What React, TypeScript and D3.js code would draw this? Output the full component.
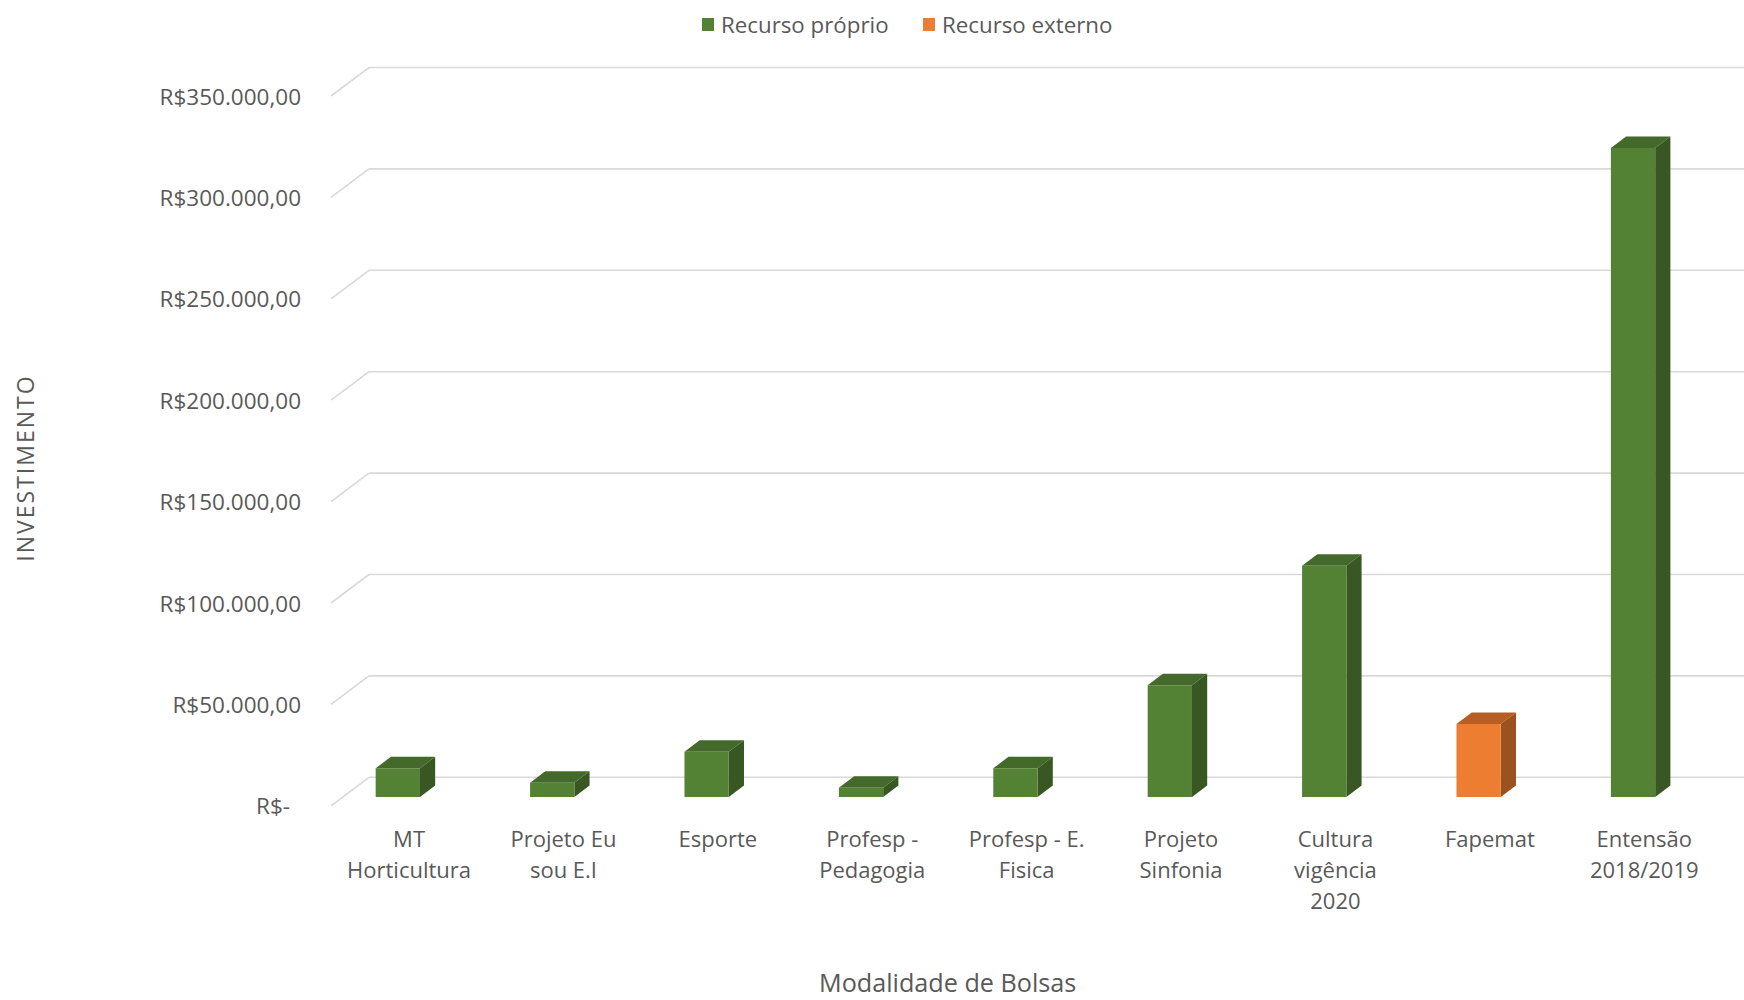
import React, { useEffect } from "react";
import * as d3 from "d3";

const categories = [
  "MT\nHorticultura",
  "Projeto Eu\nsou E.I",
  "Esporte",
  "Profesp -\nPedagogia",
  "Profesp - E.\nFisica",
  "Projeto\nSinfonia",
  "Cultura\nvigência\n2020",
  "Fapemat",
  "Entensão\n2018/2019",
];
const recursoProprio = [14150, 7050, 22350, 4600, 14150, 55100, 114050, 0, 320000];
const recursoExterno = [0, 0, 0, 0, 0, 0, 0, 36000, 0];
const seriesNames = ["Recurso próprio", "Recurso externo"];
const yTicks = [0, 50000, 100000, 150000, 200000, 250000, 300000, 350000];
const yTickLabels = [
  "R$-",
  "R$50.000,00",
  "R$100.000,00",
  "R$150.000,00",
  "R$200.000,00",
  "R$250.000,00",
  "R$300.000,00",
  "R$350.000,00",
];

const W = 1744;
const H = 1000;
const FONT = "'Open Sans', 'Noto Sans', sans-serif";
const TEXT = "#595959";
const GRID = "#d9d9d9";
const DEPTH_X = 38;
const DEPTH_Y = 28.5;
const F_FRONT = 0.69;
const F_BACK = 0.29;

const colors = [
  { front: "#548235", top: "#436a2a", side: "#385723" },
  { front: "#ED7D31", top: "#B65E24", side: "#9C521F" },
];

export default function App() {
  useEffect(() => {
    document.body.style.margin = "0";
  }, []);

  const y = d3.scaleLinear().domain([0, 350000]).range([777.3, 67.5]);
  const x = d3
    .scaleBand<string>()
    .domain(categories)
    .range([346.85, 1736.45])
    .paddingInner(0.713)
    .paddingOuter(0.3565);
  const bw = x.bandwidth();

  const proj = (xb: number, v: number, f: number): [number, number] => [
    xb - f * DEPTH_X,
    y(v) + f * DEPTH_Y,
  ];
  const pts = (arr: [number, number][]) => arr.map((p) => p.join(",")).join(" ");

  const bars: { cat: string; value: number; s: number }[] = [];
  categories.forEach((c, i) => {
    if (recursoProprio[i] > 0) bars.push({ cat: c, value: recursoProprio[i], s: 0 });
    if (recursoExterno[i] > 0) bars.push({ cat: c, value: recursoExterno[i], s: 1 });
  });

  const gridX0 = 369;
  return (
    <svg width={W} height={H} style={{ display: "block", background: "#fff" }} fontFamily={FONT}>
      {/* legend */}
      <g>
        <rect x={702} y={18} width={12} height={13} fill={colors[0].front} />
        <text x={721} y={24} fontSize={22.3} fill={TEXT} dominantBaseline="central">
          {seriesNames[0]}
        </text>
        <rect x={923} y={18} width={12} height={13} fill={colors[1].front} />
        <text x={942} y={24} fontSize={22.3} fill={TEXT} dominantBaseline="central">
          {seriesNames[1]}
        </text>
      </g>

      {/* gridlines */}
      {yTicks.map((t) => {
        const yb = y(t);
        return (
          <g key={t}>
            <line x1={gridX0} x2={W + 10} y1={yb} y2={yb} stroke={GRID} strokeWidth={1.6} />
            <line
              x1={gridX0 - DEPTH_X}
              y1={yb + DEPTH_Y}
              x2={gridX0}
              y2={yb}
              stroke={GRID}
              strokeWidth={1.6}
            />
          </g>
        );
      })}

      {/* y tick labels */}
      {yTicks.map((t, i) => (
        <text
          key={"l" + t}
          x={t === 0 ? 290 : 301}
          y={y(t) + DEPTH_Y}
          textAnchor="end"
          dominantBaseline="central"
          fontSize={22.5}
          fill={TEXT}
        >
          {yTickLabels[i]}
        </text>
      ))}

      {/* bars */}
      {bars.map((b, i) => {
        const xl = x(b.cat)!;
        const xr = xl + bw;
        const c = colors[b.s];
        const fl0 = proj(xl, 0, F_FRONT);
        const fr0 = proj(xr, 0, F_FRONT);
        const flv = proj(xl, b.value, F_FRONT);
        const frv = proj(xr, b.value, F_FRONT);
        const blv = proj(xl, b.value, F_BACK);
        const brv = proj(xr, b.value, F_BACK);
        const br0 = proj(xr, 0, F_BACK);
        return (
          <g key={i}>
            <polygon points={pts([flv, frv, brv, blv])} fill={c.top} />
            <polygon points={pts([frv, fr0, br0, brv])} fill={c.side} />
            <polygon points={pts([flv, frv, fr0, fl0])} fill={c.front} />
          </g>
        );
      })}

      {/* category labels */}
      {categories.map((c) => {
        const cx = x(c)! + bw / 2 - 15;
        return (
          <text key={c} x={cx} y={838} textAnchor="middle" fontSize={22} fill={TEXT} dominantBaseline="central">
            {c.split("\n").map((line, j) => (
              <tspan key={j} x={cx} dy={j === 0 ? 0 : 31}>
                {line}
              </tspan>
            ))}
          </text>
        );
      })}

      {/* axis titles */}
      <text
        transform={`translate(25,468) rotate(-90)`}
        textAnchor="middle"
        dominantBaseline="central"
        fontSize={23}
        letterSpacing={2}
        fill={TEXT}
      >
        INVESTIMENTO
      </text>
      <text x={947.7} y={982} textAnchor="middle" dominantBaseline="central" fontSize={25.2} fill={TEXT}>
        Modalidade de Bolsas
      </text>
    </svg>
  );
}
